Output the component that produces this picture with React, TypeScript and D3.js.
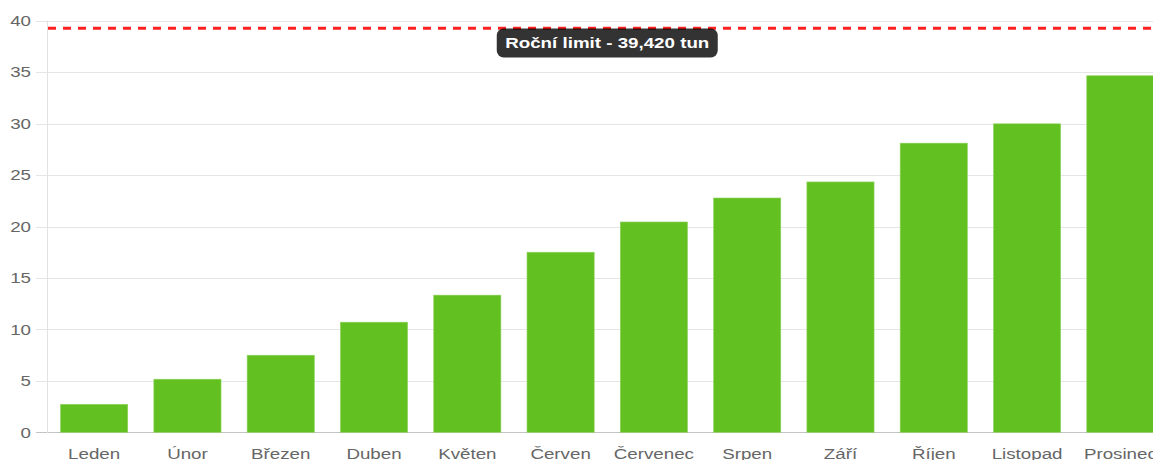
import React, { useEffect, useRef } from "react";
import * as d3 from "d3";

// monthly cumulative amounts (tonnes)
const months = [
  "Leden",
  "Únor",
  "Březen",
  "Duben",
  "Květen",
  "Červen",
  "Červenec",
  "Srpen",
  "Září",
  "Říjen",
  "Listopad",
  "Prosinec",
];
const amounts = [2.72, 5.16, 7.49, 10.7, 13.33, 17.5, 20.44, 22.77, 24.33, 28.1, 29.98, 34.65];
const yTicks = [0, 5, 10, 15, 20, 25, 30, 35, 40];
const limitValue = 39.42;
const limitLabel = "Roční limit - 39,420 tun";

const App = () => {
  const ref = useRef<SVGSVGElement>(null);

  useEffect(() => {
    const width = 1153,
      height = 460;
    const stretch = 1.25; // glyphs in the picture are wider than tall
    const font = "'Liberation Sans', Arial, sans-serif";

    const svg = d3.select(ref.current);
    svg.selectAll("*").remove();

    const x = d3
      .scaleBand()
      .domain(months)
      .range([47.5, 1167])
      .paddingInner(0.28)
      .paddingOuter(0.14);
    const y = d3.scaleLinear().domain([0, 40]).range([432.3, 20.7]);

    // horizontal grid
    svg
      .append("g")
      .selectAll("line")
      .data(yTicks)
      .enter()
      .append("line")
      .attr("x1", 36)
      .attr("x2", width)
      .attr("y1", (d) => Math.round(y(d)) + 0.5)
      .attr("y2", (d) => Math.round(y(d)) + 0.5)
      .attr("stroke", (d) => (d === 0 ? "#c4c4c4" : "#e5e5e5"))
      .attr("stroke-width", 1);

    // y axis line
    svg
      .append("line")
      .attr("x1", 47.5)
      .attr("x2", 47.5)
      .attr("y1", y(40))
      .attr("y2", y(0) + 1)
      .attr("stroke", "#e2e2e2");

    // y tick labels
    svg
      .append("g")
      .selectAll("text")
      .data(yTicks)
      .enter()
      .append("text")
      .attr("transform", (d) => "translate(31," + y(d) + ") scale(" + stretch + ",1)")
      .attr("dy", "0.35em")
      .attr("text-anchor", "end")
      .attr("font-family", font)
      .attr("font-size", 15)
      .attr("fill", "#666")
      .text((d) => d);

    // bars
    svg
      .append("g")
      .selectAll("rect")
      .data(amounts)
      .enter()
      .append("rect")
      .attr("x", (d, i) => x(months[i]) as number)
      .attr("width", x.bandwidth())
      .attr("y", (d) => y(d))
      .attr("height", (d) => y(0) - y(d))
      .attr("fill", "#63c021")
      .attr("stroke", "#8fd260")
      .attr("stroke-width", 0.6);

    // x tick labels
    svg
      .append("g")
      .selectAll("text")
      .data(months)
      .enter()
      .append("text")
      .attr(
        "transform",
        (d) => "translate(" + ((x(d) as number) + x.bandwidth() / 2) + ",459) scale(" + stretch + ",1)"
      )
      .attr("text-anchor", "middle")
      .attr("font-family", font)
      .attr("font-size", 15)
      .attr("fill", "#666")
      .text((d) => d);

    // limit line
    svg
      .append("line")
      .attr("x1", 48)
      .attr("x2", width)
      .attr("y1", y(limitValue) + 1.5)
      .attr("y2", y(limitValue) + 1.5)
      .attr("stroke", "#ff2020")
      .attr("stroke-width", 3)
      .attr("stroke-dasharray", "8 7");

    // limit label
    const cx = (47.5 + 1167) / 2;
    svg
      .append("rect")
      .attr("x", cx - 110.5)
      .attr("y", 28.5)
      .attr("width", 221)
      .attr("height", 29)
      .attr("rx", 7)
      .attr("fill", "rgba(0,0,0,0.8)");
    svg
      .append("text")
      .attr("transform", "translate(" + cx + ",48) scale(" + stretch + ",1)")
      .attr("text-anchor", "middle")
      .attr("font-family", font)
      .attr("font-size", 15)
      .attr("font-weight", "bold")
      .attr("fill", "#fff")
      .text(limitLabel);

    svg.attr("width", width).attr("height", height);
  }, []);

  return (
    <div style={{ position: "absolute", left: 0, top: 0 }}>
      <svg ref={ref} width={1153} height={460} style={{ display: "block", background: "#fff" }} />
    </div>
  );
};

export default App;
